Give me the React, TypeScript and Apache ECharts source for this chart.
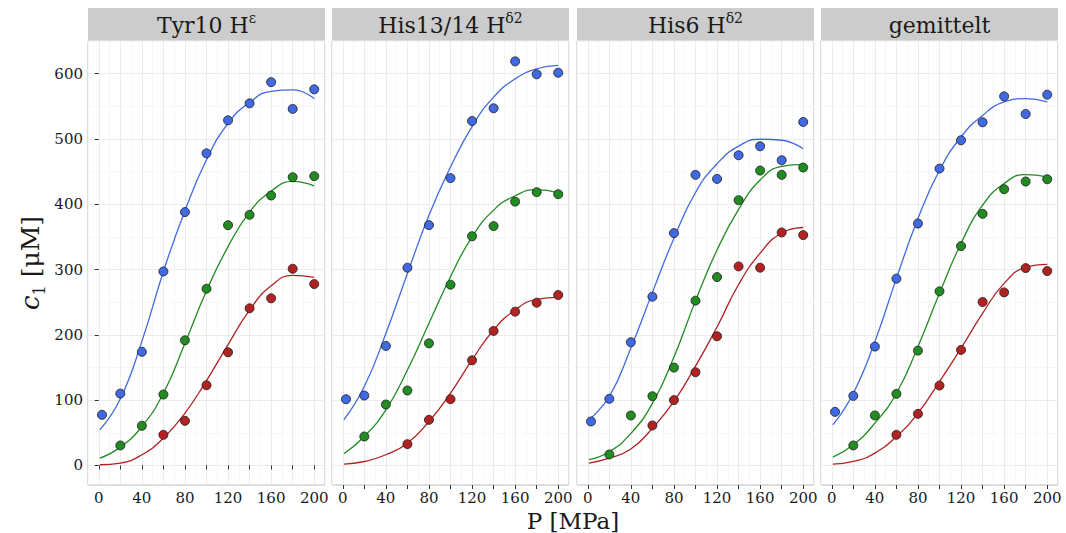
import React, { useEffect, useRef } from "react";
import * as echarts from "echarts";

// ---------- data ----------
const PANELS = ["Tyr10 H", "His13/14 H", "His6 H", "gemittelt"];
const PANEL_SUPS = ["ε", "δ2", "δ2", ""];

const P_BLUE = [3, 20, 40, 60, 80, 100, 120, 140, 160, 180, 200];
const P_GREEN = [20, 40, 60, 80, 100, 120, 140, 160, 180, 200];
const P_RED = [60, 80, 100, 120, 140, 160, 180, 200];
const P_CURVE = [1, 20, 40, 60, 80, 100, 120, 140, 160, 180, 200];

const tyrBlue = [77.5, 110, 174, 297, 388, 478, 528.5, 554.5, 587, 546, 576];
const tyrGreen = [30.6, 60.7, 108.6, 191.6, 270.6, 368, 383.8, 413.4, 441.4, 443];
const tyrRed = [46.9, 68.3, 122.8, 173.3, 240.6, 255.9, 301.2, 277.8];
const tyrBlueFit = [54.5, 102, 190, 297, 390, 468, 524, 556, 573, 575, 562];
const tyrGreenFit = [11.2, 28, 59.6, 110.6, 187, 267.6, 335, 388, 420, 435, 428];
const tyrRedFit = [1, 3.6, 16.3, 41.8, 80, 130, 185, 238, 275, 291, 288];

const hisBlue = [101.4, 107, 183, 302.8, 368, 440, 527.5, 547, 618.8, 599, 601.4];
const hisGreen = [44.3, 93.3, 114.7, 187, 276.8, 351, 366.5, 404, 418.5, 415.4];
const hisRed = [32.6, 69.8, 101.4, 161, 206, 235.5, 249.2, 261];
const hisBlueFit = [69.8, 120.8, 202, 294, 383, 457, 519, 564, 592, 607.5, 612.6];
const hisGreenFit = [17.8, 44.3, 85, 146, 217.6, 289, 350, 391, 413, 422.5, 417.4];
const hisRedFit = [2, 6, 16.3, 34, 67.3, 110.6, 161.6, 207.4, 238, 254.3, 257.4];

const his6Blue = [67.3, 102, 188.6, 258.4, 355.8, 445, 438.8, 475, 488.8, 467.4, 526];
const his6Green = [16.8, 76.5, 106, 149.8, 252.3, 288.5, 406.2, 451.6, 445, 456.2];
const his6Red = [61.2, 100, 142.7, 197.8, 304.8, 302.8, 356.8, 352.7];
const his6BlueFit = [69.8, 105.5, 180, 265, 348, 418, 462, 489, 499.5, 498, 485];
const his6GreenFit = [8.7, 21, 49, 95, 166, 252, 330, 392, 437, 458, 461];
const his6RedFit = [3.6, 11.2, 25, 57, 98, 152, 212, 277, 325, 356, 364.4];

const gemBlue = [82, 106.5, 182, 286, 370.5, 454.6, 498, 525.5, 565.2, 538.2, 567.8];
const gemGreen = [30.6, 76.5, 109.6, 175.8, 266.6, 335.9, 385.3, 423, 434.8, 438.3];
const gemRed = [46.9, 79, 122.3, 176.9, 250.3, 265, 302.2, 297.7];
const gemBlueFit = [62.2, 110.6, 189.6, 286.4, 378, 452, 503, 536, 556.6, 561.7, 556.6];
const gemGreenFit = [12.7, 31.6, 64.7, 110.6, 182, 263.5, 340, 398.6, 431.7, 445.5, 442];
const gemRedFit = [2, 6, 18.9, 44.3, 80, 128.4, 179.4, 233, 278.8, 303.3, 307.8];

const POINTS = [
  [tyrBlue, tyrGreen, tyrRed],
  [hisBlue, hisGreen, hisRed],
  [his6Blue, his6Green, his6Red],
  [gemBlue, gemGreen, gemRed],
];
const FITS = [
  [tyrBlueFit, tyrGreenFit, tyrRedFit],
  [hisBlueFit, hisGreenFit, hisRedFit],
  [his6BlueFit, his6GreenFit, his6RedFit],
  [gemBlueFit, gemGreenFit, gemRedFit],
];
const P_SETS = [P_BLUE, P_GREEN, P_RED];

const X_TICKS = [0, 20, 40, 60, 80, 100, 120, 140, 160, 180, 200];
const X_LABELS = [0, 40, 80, 120, 160, 200];
const Y_TICKS = [0, 100, 200, 300, 400, 500, 600];

// ---------- style ----------
const COLORS = ["#4169E1", "#228B22", "#B22222"];
const FONT = "DejaVu Serif";
const LEFTS = [88, 332, 577, 821];
const PW = 237;
const TOP = 41;
const PH = 444;
const STRIP_Y = 8;
const STRIP_H = 32;
const MAJOR = "#EBEBEB";
const MINOR = "#F6F6F6";
const CLEAR = "rgba(0,0,0,0)";

export default function App() {
  const ref = useRef<HTMLDivElement>(null);

  useEffect(() => {
    if (!ref.current) return;
    const chart = echarts.init(ref.current, null, { renderer: "svg" });

    const grid: any[] = [];
    const xAxis: any[] = [];
    const yAxis: any[] = [];
    const series: any[] = [];
    const graphic: any[] = [];

    const yColors = [CLEAR, CLEAR, CLEAR, MAJOR, CLEAR, CLEAR, CLEAR, CLEAR, MINOR, CLEAR];

    for (let i = 0; i < 4; i++) {
      grid.push({
        left: LEFTS[i],
        top: TOP,
        width: PW,
        height: PH,
        show: true,
        borderColor: "#BDBDBD",
        borderWidth: 1,
        backgroundColor: "#fff",
      });
      xAxis.push({
        type: "value",
        gridIndex: i,
        min: -10,
        max: 210,
        interval: 10,
        axisLine: { show: false },
        axisTick: { show: false },
        axisLabel: { show: false },
        splitLine: { show: true, lineStyle: { color: [MINOR, MAJOR], width: 1 } },
      });
      xAxis.push({
        type: "value",
        gridIndex: i,
        position: "bottom",
        min: -10,
        max: 210,
        interval: 10,
        axisLine: { show: false },
        axisTick: {
          show: true,
          length: 4,
          customValues: X_TICKS,
          lineStyle: { color: "#333", width: 1 },
        },
        axisLabel: {
          show: true,
          customValues: X_LABELS,
          formatter: (v: number) => (v % 40 === 0 && v >= 0 && v <= 200 ? String(v) : ""),
          color: "#1A1A1A",
          fontFamily: FONT,
          fontSize: 15,
          margin: 5,
        },
        splitLine: { show: false },
      });
      yAxis.push({
        type: "value",
        gridIndex: i,
        min: -30,
        max: 650,
        interval: 10,
        axisLine: { show: false },
        axisTick: { show: false },
        axisLabel: { show: false },
        splitLine: { show: true, lineStyle: { color: yColors, width: 1 } },
      });

      graphic.push({
        type: "rect",
        shape: { x: LEFTS[i], y: STRIP_Y, width: PW, height: STRIP_H },
        style: { fill: "#CCCCCC" },
        z: 10,
      });
      const sup = PANEL_SUPS[i];
      graphic.push({
        type: "text",
        x: LEFTS[i] + PW / 2,
        y: STRIP_Y + STRIP_H / 2 + 1,
        z: 11,
        style: {
          text: sup ? `{m|${PANELS[i]}}{s|${sup}}` : `{m|${PANELS[i]}}`,
          align: "center",
          verticalAlign: "middle",
          fill: "#1A1A1A",
          rich: {
            m: { fontFamily: FONT, fontSize: 22, lineHeight: 28, fill: "#1A1A1A" },
            s: { fontFamily: FONT, fontSize: 14, lineHeight: 28, verticalAlign: "top", fill: "#1A1A1A" },
          },
        },
      });
    }
    yAxis.push({
      type: "value",
      gridIndex: 0,
      position: "left",
      min: -30,
      max: 650,
      interval: 10,
      axisLine: { show: false },
      axisTick: {
        show: true,
        length: 4,
        customValues: Y_TICKS,
        lineStyle: { color: "#333", width: 1 },
      },
      axisLabel: {
        show: true,
        customValues: Y_TICKS,
        formatter: (v: number) => (v % 100 === 0 && v >= 0 && v <= 600 ? String(v) : ""),
        color: "#1A1A1A",
        fontFamily: FONT,
        fontSize: 15,
        margin: 5,
      },
      splitLine: { show: false },
    });

    for (let i = 0; i < 4; i++) {
      for (let k = 0; k < 3; k++) {
        series.push({
          type: "line",
          xAxisIndex: 2 * i,
          yAxisIndex: i,
          data: P_CURVE.map((p, j) => [p, FITS[i][k][j]]),
          smooth: 0.5,
          showSymbol: false,
          symbol: "none",
          lineStyle: { color: COLORS[k], width: 1.3 },
          z: 3,
        });
      }
      for (let k = 0; k < 3; k++) {
        series.push({
          type: "scatter",
          xAxisIndex: 2 * i,
          yAxisIndex: i,
          data: P_SETS[k].map((p, j) => [p, POINTS[i][k][j]]),
          symbol: "circle",
          symbolSize: 9,
          itemStyle: { color: COLORS[k], borderColor: "#1A1A1A", borderWidth: 0.8, opacity: 1 },
          z: 4,
        });
      }
    }

    graphic.push({
      type: "text",
      x: (LEFTS[0] + LEFTS[3] + PW) / 2,
      y: 521,
      style: {
        text: "P [MPa]",
        align: "center",
        verticalAlign: "middle",
        fontFamily: FONT,
        fontSize: 23,
        fill: "#1A1A1A",
      },
    });
    graphic.push({
      type: "text",
      x: 30,
      y: TOP + PH / 2,
      rotation: Math.PI / 2,
      style: {
        text: "{i|c}{b|1}{n| [μM]}",
        align: "center",
        verticalAlign: "middle",
        fill: "#1A1A1A",
        rich: {
          i: { fontFamily: FONT, fontStyle: "italic", fontSize: 26, lineHeight: 34, fill: "#1A1A1A" },
          b: { fontFamily: FONT, fontSize: 16, lineHeight: 34, verticalAlign: "bottom", fill: "#1A1A1A" },
          n: { fontFamily: FONT, fontSize: 25, lineHeight: 34, fill: "#1A1A1A" },
        },
      },
    });

    chart.setOption({
      animation: false,
      backgroundColor: "#fff",
      grid,
      xAxis,
      yAxis,
      series,
      graphic,
    });

    return () => chart.dispose();
  }, []);

  return (
    <div
      ref={ref}
      style={{ position: "absolute", left: 0, top: 0, width: 1066, height: 533 }}
    />
  );
}
